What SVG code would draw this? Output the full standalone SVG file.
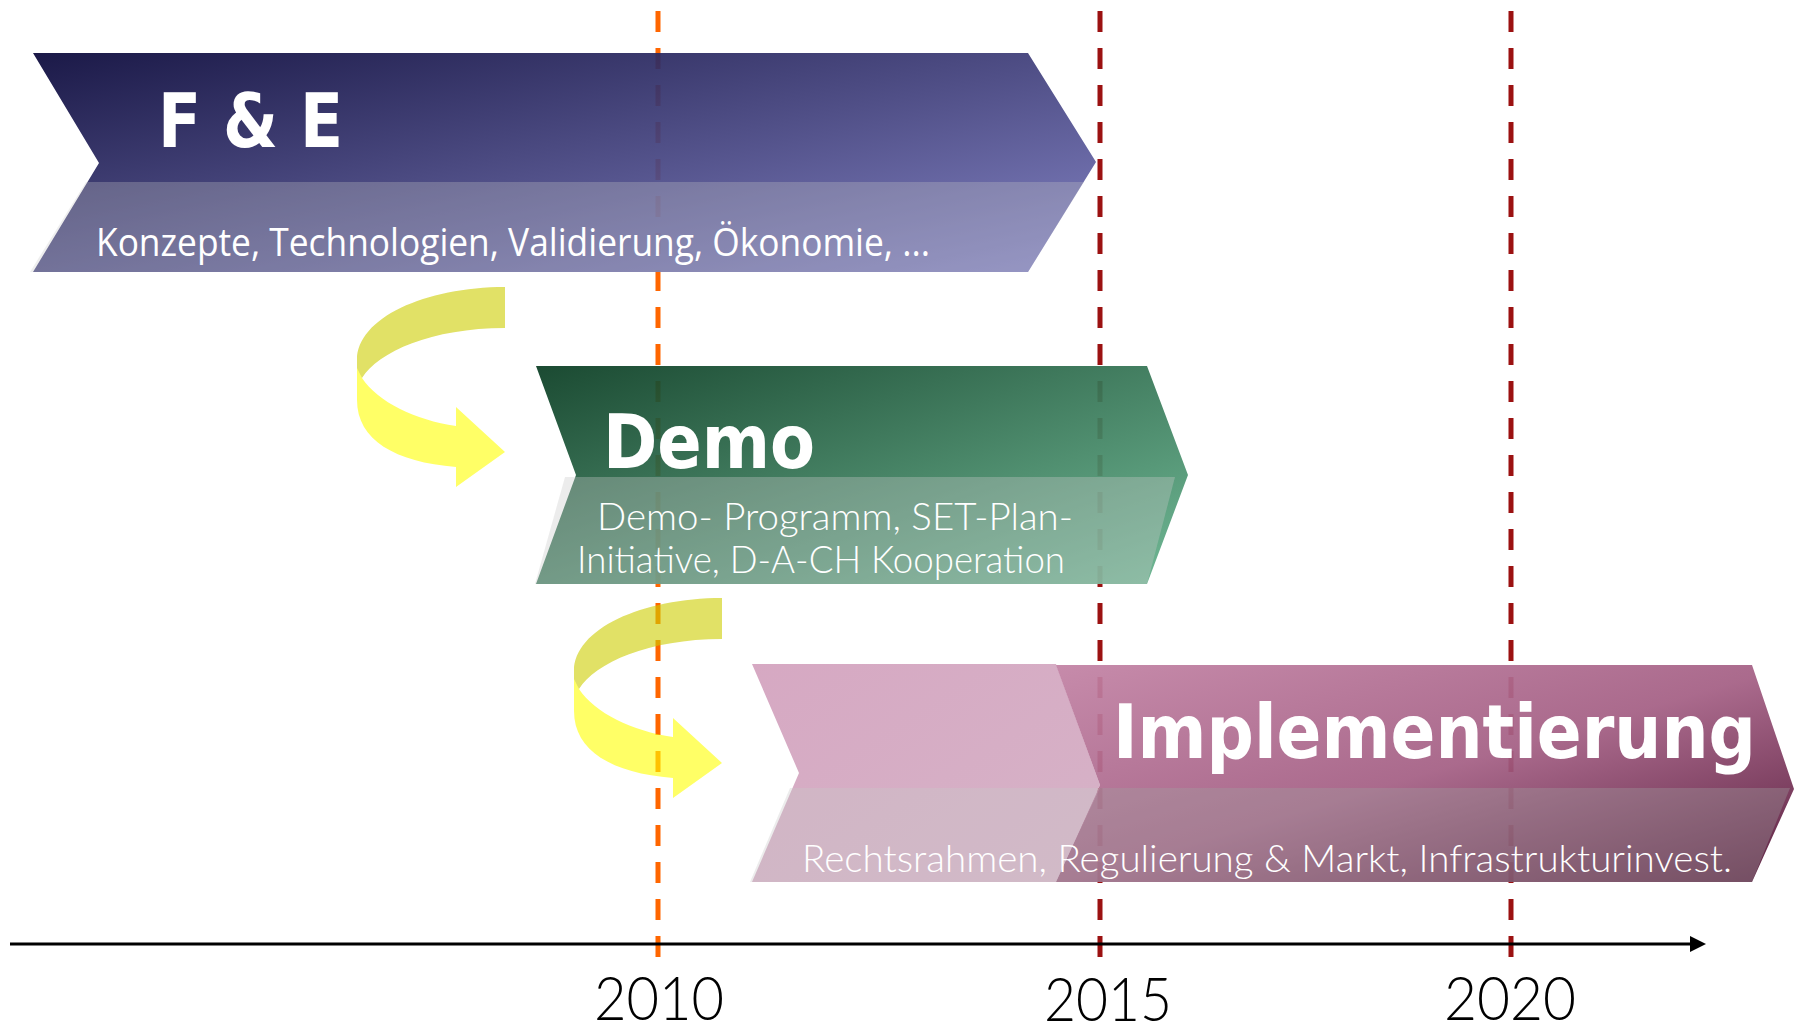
<svg xmlns="http://www.w3.org/2000/svg" width="1794" height="1034" viewBox="0 0 1794 1034">
  <style>
    .title { font-family: "DejaVu Sans Condensed", "DejaVu Sans", sans-serif; font-weight: bold; font-stretch: condensed; font-size: 75px; fill: #ffffff; }
    .sub { font-family: "Open Sans", "Noto Sans", sans-serif; font-size: 38px; fill: #ffffff; }
    .light { font-family: "Lato", "Open Sans", sans-serif; font-weight: 300; font-size: 37px; }
    .year { font-family: "Lato", "Open Sans", sans-serif; font-weight: 300; font-size: 61px; fill: #000000; }
    .dash { fill: none; stroke-width: 5; stroke-dasharray: 21 16; }
    .arrowbody { opacity: 0.93; }
    .yb { fill: #ffff00; }
    .yd { fill: #cdcd00; }
  </style>
  <defs>
    <linearGradient id="gFE" x1="0" y1="0" x2="1" y2="1">
      <stop offset="0" stop-color="#0a083a"/>
      <stop offset="1" stop-color="#7a7ac0"/>
    </linearGradient>
    <linearGradient id="gDemo" x1="0" y1="0" x2="1" y2="1">
      <stop offset="0" stop-color="#0a3d23"/>
      <stop offset="1" stop-color="#66b48e"/>
    </linearGradient>
    <linearGradient id="gImpl" x1="0" y1="0" x2="1" y2="1">
      <stop offset="0" stop-color="#c282a4"/>
      <stop offset="0.5" stop-color="#a45f84"/>
      <stop offset="1" stop-color="#4e0f31"/>
    </linearGradient>
    <linearGradient id="gPink" x1="0" y1="0" x2="1" y2="1">
      <stop offset="0" stop-color="#d3a2be"/>
      <stop offset="1" stop-color="#d3adc3"/>
    </linearGradient>
    <marker id="axisHead" viewBox="0 0 16 16" refX="2" refY="8" markerWidth="16" markerHeight="16" markerUnits="userSpaceOnUse" orient="auto">
      <path d="M0,0 L16,8 L0,16 Z" fill="#000000"/>
    </marker>
  </defs>

  <!-- timeline: year markers and axis -->
  <g id="timeline">
    <line class="dash" x1="658" y1="11" x2="658" y2="962" stroke="#ff6600"/>
    <line class="dash" x1="1100" y1="11" x2="1100" y2="962" stroke="#9b1111"/>
    <line class="dash" x1="1511" y1="11" x2="1511" y2="962" stroke="#9b1111"/>
    <line x1="10" y1="944" x2="1692" y2="944" stroke="#000000" stroke-width="3" marker-end="url(#axisHead)"/>
    <text class="year" x="594" y="1020" textLength="130" lengthAdjust="spacingAndGlyphs">2010</text>
    <text class="year" x="1044" y="1021" textLength="128" lengthAdjust="spacingAndGlyphs">2015</text>
    <text class="year" x="1444" y="1020" textLength="132" lengthAdjust="spacingAndGlyphs">2020</text>
  </g>

  <!-- F & E -->
  <g id="node-fe">
    <polygon class="arrowbody" points="33,53 1028,53 1096,162 1028,272 33,272 99,163" fill="url(#gFE)"/>
    <polygon points="86,182 1084,182 1028,272 30,272" fill="#c8c8c8" fill-opacity="0.3"/>
    <text class="title" x="158" y="147" textLength="185" lengthAdjust="spacingAndGlyphs">F &amp; E</text>
    <text class="sub" x="96" y="256" textLength="834" lengthAdjust="spacingAndGlyphs">Konzepte, Technologien, Validierung, Ökonomie, ...</text>
  </g>

  <!-- Demo -->
  <g id="node-demo">
    <polygon class="arrowbody" points="536,366 1147,366 1188,475 1147,584 536,584 576,475" fill="url(#gDemo)"/>
    <polygon points="565,477 1175,477 1147,584 535,584" fill="#c8c8c8" fill-opacity="0.35"/>
    <text class="title" x="603" y="468" textLength="212" lengthAdjust="spacingAndGlyphs">Demo</text>
    <text class="sub light" x="597" y="530" textLength="476" lengthAdjust="spacingAndGlyphs">Demo- Programm, SET-Plan-</text>
    <text class="sub light" x="577" y="573" textLength="488" lengthAdjust="spacingAndGlyphs">Initiative, D-A-CH Kooperation</text>
  </g>

  <!-- Implementierung -->
  <g id="node-impl">
    <polygon class="arrowbody" points="752,664 1056,664 1100,785 1056,882 752,882 799,773" fill="url(#gPink)"/>
    <polygon class="arrowbody" points="1056,665 1752,665 1794,789 1752,882 1056,882 1100,785" fill="url(#gImpl)"/>
    <polygon points="790,788 1100,788 1056,882 750,882" fill="#c8c8c8" fill-opacity="0.35"/>
    <polygon points="1100,788 1790,788 1752,882 1056,882" fill="#a0a0a0" fill-opacity="0.35"/>
    <text class="title" x="1113" y="758" textLength="643" lengthAdjust="spacingAndGlyphs">Implementierung</text>
    <text class="sub light" x="802" y="872" textLength="930" lengthAdjust="spacingAndGlyphs">Rechtsrahmen, Regulierung &amp; Markt, Infrastrukturinvest.</text>
  </g>

  <!-- connectors: curved yellow arrows -->
  <g id="connectors" opacity="0.6">
    <g id="curve-fe-demo">
      <path class="yb" d="M357,355 L357,400 C357,440 395,462 456,467 L456,487 L505,452 L456,407 L456,426 C415,420 378,402 362,378 Z"/>
      <path class="yd" d="M505,287 C425,287 357,318 357,360 L357,368 L362,378 C378,352 432,328 505,328 Z"/>
    </g>
    <g id="curve-demo-impl" transform="translate(217,311)">
      <path class="yb" d="M357,355 L357,400 C357,440 395,462 456,467 L456,487 L505,452 L456,407 L456,426 C415,420 378,402 362,378 Z"/>
      <path class="yd" d="M505,287 C425,287 357,318 357,360 L357,368 L362,378 C378,352 432,328 505,328 Z"/>
    </g>
  </g>
</svg>
